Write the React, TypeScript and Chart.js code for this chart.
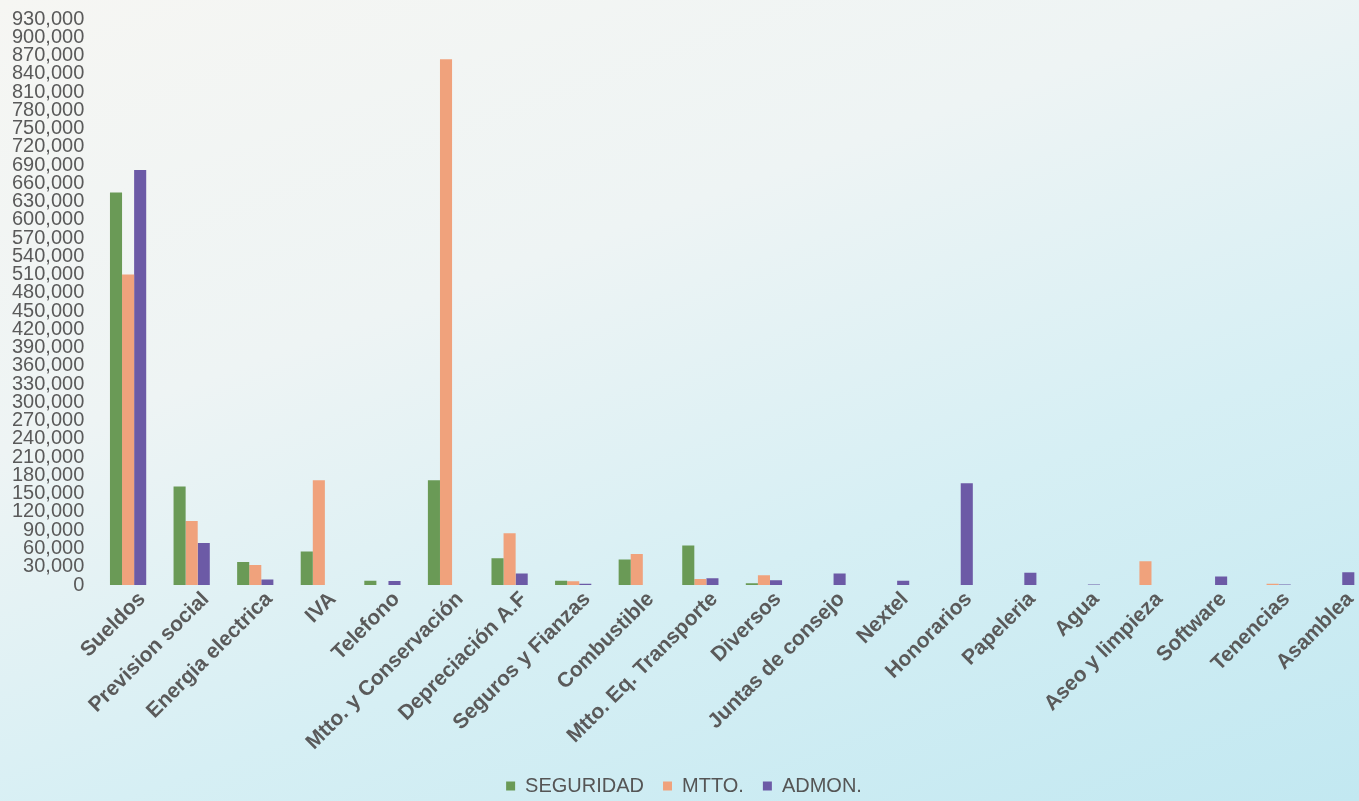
import React, { useEffect, useRef } from "react";
import { Chart, registerables } from "chart.js";

Chart.register(...registerables);

const categories = [
  "Sueldos", "Prevision social", "Energia electrica", "IVA", "Telefono",
  "Mtto. y Conservación", "Depreciación A.F", "Seguros y Fianzas", "Combustible",
  "Mtto. Eq. Transporte", "Diversos", "Juntas de consejo", "Nextel", "Honorarios",
  "Papeleria", "Agua", "Aseo y limpieza", "Software", "Tenencias", "Asamblea",
];

const seguridad = [645000, 162000, 38000, 55000, 7000, 172000, 44000, 7000, 42000, 65000, 3000, 0, 0, 0, 0, 0, 0, 0, 0, 0];
const mtto = [510000, 105000, 33000, 172000, 0, 864000, 85000, 6000, 51000, 10000, 16000, 0, 0, 0, 0, 0, 39000, 0, 2000, 0];
const admon = [682000, 69000, 9000, 0, 6500, 0, 19000, 2000, 0, 11000, 8000, 19000, 7000, 167000, 20000, 1000, 0, 14000, 1000, 21000];

const yMax = 930000;
const yStep = 30000;

export default function App() {
  const ref = useRef<HTMLCanvasElement>(null);
  useEffect(() => {
    if (!ref.current) return;
    const chart = new Chart(ref.current, {
      type: "bar",
      data: {
        labels: categories,
        datasets: [
          { label: "SEGURIDAD", data: seguridad, backgroundColor: "#6a9a56" },
          { label: "MTTO.", data: mtto, backgroundColor: "#f0a27c" },
          { label: "ADMON.", data: admon, backgroundColor: "#6c5aa6" },
        ],
      },
      options: {
        animation: false,
        responsive: false,
        maintainAspectRatio: false,
        layout: { padding: { top: 0, right: 12, left: 0, bottom: -5 } },
        datasets: { bar: { categoryPercentage: 0.57, barPercentage: 1.0 } },
        plugins: {
          legend: {
            position: "bottom",
            labels: {
              color: "#555",
              font: { family: "Liberation Sans, Arial", size: 20 },
              usePointStyle: true,
              pointStyle: "rect",
              boxWidth: 9,
              boxHeight: 9,
              padding: 19,
            },
          },
          tooltip: { enabled: false },
        },
        scales: {
          x: {
            grid: { display: false, drawTicks: false },
            border: { display: false },
            ticks: {
              color: "#5a5a5a",
              font: { family: "Liberation Sans, Arial", size: 21, weight: "bold" },
              minRotation: 45,
              maxRotation: 45,
              autoSkip: false,
              padding: 2,
              labelOffset: 14,
            },
          },
          y: {
            min: 0,
            max: yMax,
            grid: { display: false, drawTicks: false },
            border: { display: false },
            ticks: {
              stepSize: yStep,
              autoSkip: false,
              color: "#5a5a5a",
              font: { family: "Liberation Sans, Arial", size: 20 },
              padding: 12,
              callback: (v: any) => Number(v).toLocaleString("en-US"),
            },
          },
        },
      },
    });
    return () => chart.destroy();
  }, []);

  return (
    <div
      style={{
        position: "fixed",
        left: 0,
        top: 0,
        width: 1359,
        height: 801,
        overflow: "hidden",
        background: "linear-gradient(160deg, #f6f6f3 0%, #eef4f4 35%, #d6eff4 65%, #c2e8f1 100%)",
      }}
    >
      <canvas ref={ref} width={1380} height={806} style={{ position: "absolute", left: 0, top: -5, width: 1380, height: 806 }} />
    </div>
  );
}
